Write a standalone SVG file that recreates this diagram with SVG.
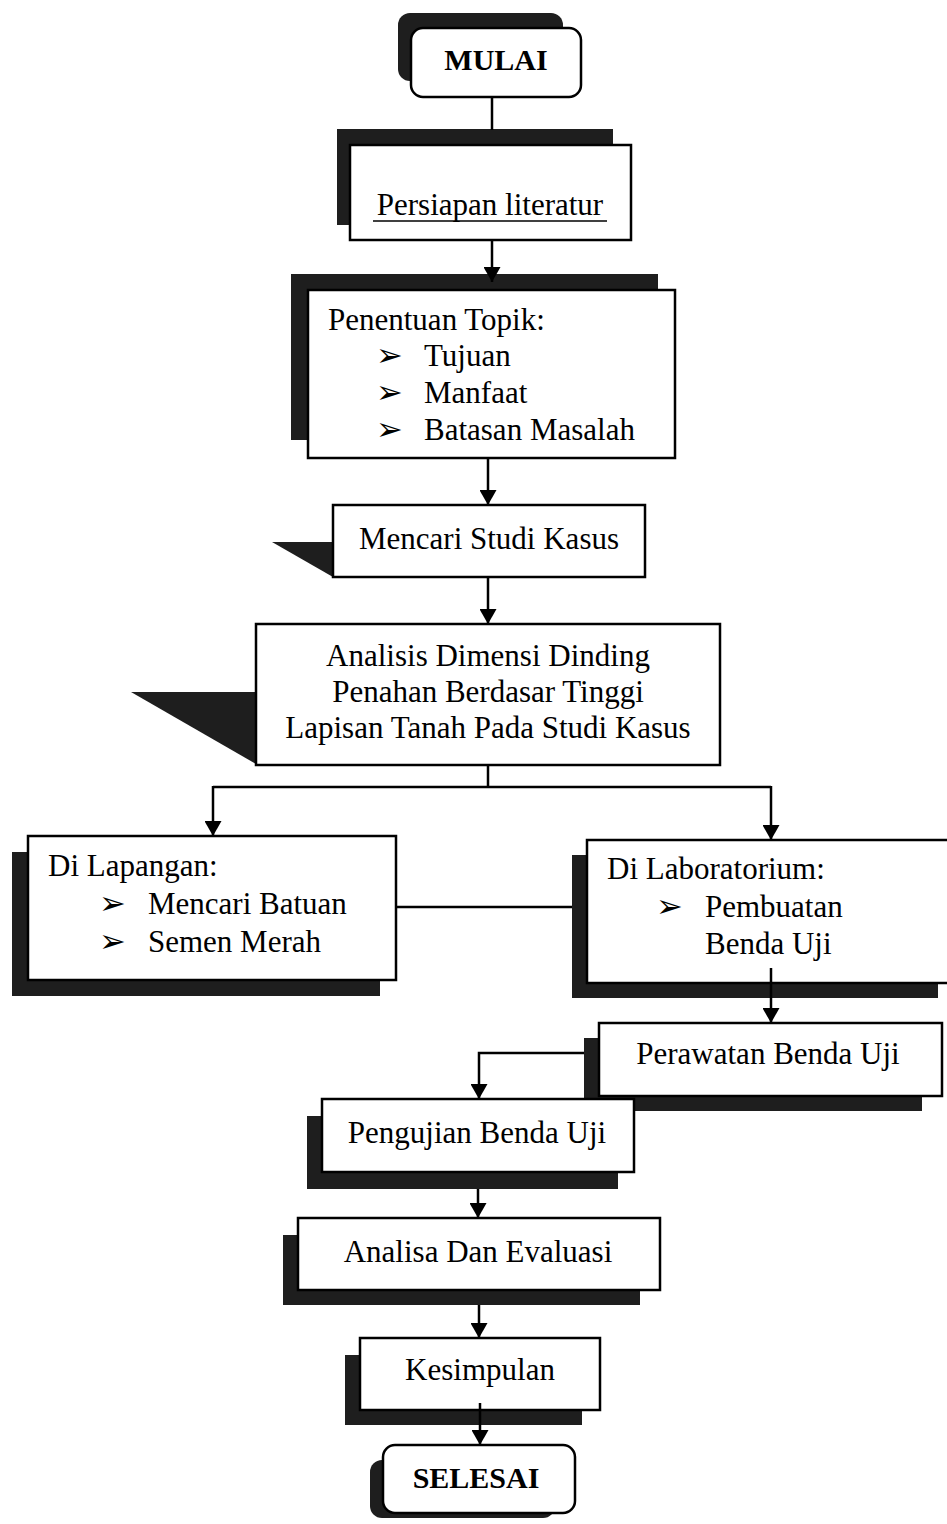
<svg xmlns="http://www.w3.org/2000/svg" width="947" height="1524" viewBox="0 0 947 1524">
<style>
.box{fill:#fff;stroke:#000;stroke-width:2.5}
.sh{fill:#1e1e1e}
.t{font-family:"Liberation Serif","Times New Roman",serif;font-size:31px;fill:#000}
.c{text-anchor:middle}
.b{font-weight:bold;font-size:30px}
.bul{font-family:"DejaVu Sans",sans-serif;font-size:32px;fill:#000}
.ln{fill:none;stroke:#000;stroke-width:2.5}
</style>
<defs>
<marker id="arr" markerWidth="15" markerHeight="17" refX="15" refY="8.5" orient="auto" markerUnits="userSpaceOnUse" viewBox="0 0 15 17">
<path d="M0,0 L15,8.5 L0,17 Z" fill="#000"/>
</marker>
</defs>
<rect width="947" height="1524" fill="#fff"/>

<g id="mulai">
<rect class="sh" x="398" y="13" width="165" height="68" rx="12"/>
<rect class="box" x="411" y="28" width="170" height="69" rx="12"/>
<text class="t c b" x="496" y="70">MULAI</text>
</g>

<g id="persiapan">
<rect class="sh" x="337" y="129" width="276" height="96"/>
<rect class="box" x="350" y="145" width="281" height="95"/>
<text class="t c" x="490" y="215">Persiapan literatur</text>
<line x1="373" y1="221" x2="607" y2="221" stroke="#000" stroke-width="1.6"/>
</g>

<g id="penentuan">
<rect class="sh" x="291" y="274" width="367" height="166"/>
<rect class="box" x="308" y="290" width="367" height="168"/>
<text class="t" x="328" y="330">Penentuan Topik:</text>
<text class="bul" x="376" y="366">➢</text>
<text class="t" x="424" y="366">Tujuan</text>
<text class="bul" x="376" y="403">➢</text>
<text class="t" x="424" y="403">Manfaat</text>
<text class="bul" x="376" y="440">➢</text>
<text class="t" x="424" y="440">Batasan Masalah</text>
</g>

<g id="mencari">
<polygon class="sh" points="272,542 333,542 333,577"/>
<rect class="box" x="333" y="505" width="312" height="72"/>
<text class="t c" x="489" y="549">Mencari Studi Kasus</text>
</g>

<g id="analisis">
<polygon class="sh" points="131,692 256,692 256,764"/>
<rect class="box" x="256" y="624" width="464" height="141"/>
<text class="t c" x="488" y="666">Analisis Dimensi Dinding</text>
<text class="t c" x="488" y="702">Penahan Berdasar Tinggi</text>
<text class="t c" x="488" y="738">Lapisan Tanah Pada Studi Kasus</text>
</g>

<g id="lapangan">
<rect class="sh" x="12" y="852" width="368" height="144"/>
<rect class="box" x="28" y="836" width="368" height="144"/>
<text class="t" x="48" y="876">Di Lapangan:</text>
<text class="bul" x="99" y="914">➢</text>
<text class="t" x="148" y="914">Mencari Batuan</text>
<text class="bul" x="99" y="952">➢</text>
<text class="t" x="148" y="952">Semen Merah</text>
</g>

<g id="laboratorium">
<rect class="sh" x="572" y="855" width="366" height="143"/>
<rect class="box" x="587" y="840" width="370" height="143"/>
<text class="t" x="607" y="879">Di Laboratorium:</text>
<text class="bul" x="656" y="917">➢</text>
<text class="t" x="705" y="917">Pembuatan</text>
<text class="t" x="705" y="954">Benda Uji</text>
</g>

<g id="perawatan">
<rect class="sh" x="584" y="1038" width="338" height="73"/>
<rect class="box" x="599" y="1023" width="343" height="73"/>
<text class="t c" x="768" y="1064">Perawatan Benda Uji</text>
</g>

<g id="pengujian">
<rect class="sh" x="307" y="1116" width="311" height="73"/>
<rect class="box" x="322" y="1099" width="312" height="73"/>
<text class="t c" x="477" y="1143">Pengujian Benda Uji</text>
</g>

<g id="analisa">
<rect class="sh" x="283" y="1235" width="357" height="70"/>
<rect class="box" x="298" y="1218" width="362" height="72"/>
<text class="t c" x="478" y="1262">Analisa Dan Evaluasi</text>
</g>

<g id="kesimpulan">
<rect class="sh" x="345" y="1355" width="237" height="70"/>
<rect class="box" x="360" y="1338" width="240" height="72"/>
<text class="t c" x="480" y="1380">Kesimpulan</text>
</g>

<g id="selesai">
<rect class="sh" x="370" y="1460" width="185" height="58" rx="12"/>
<rect class="box" x="383" y="1445" width="192" height="68" rx="12"/>
<text class="t c b" x="476" y="1488">SELESAI</text>
</g>

<g id="connectors">
<line class="ln" x1="492" y1="97" x2="492" y2="130"/>
<line class="ln" x1="492" y1="240" x2="492" y2="282" marker-end="url(#arr)"/>
<line class="ln" x1="488" y1="458" x2="488" y2="505" marker-end="url(#arr)"/>
<line class="ln" x1="488" y1="577" x2="488" y2="624" marker-end="url(#arr)"/>
<line class="ln" x1="488" y1="765" x2="488" y2="787"/>
<polyline class="ln" points="213,787 771,787"/>
<line class="ln" x1="213" y1="786" x2="213" y2="836" marker-end="url(#arr)"/>
<line class="ln" x1="771" y1="786" x2="771" y2="840" marker-end="url(#arr)"/>
<line class="ln" x1="396" y1="907" x2="572" y2="907"/>
<line class="ln" x1="771" y1="968" x2="771" y2="1023" marker-end="url(#arr)"/>
<polyline class="ln" points="584,1053 479,1053 479,1099" marker-end="url(#arr)"/>
<line class="ln" x1="478" y1="1189" x2="478" y2="1218" marker-end="url(#arr)"/>
<line class="ln" x1="479" y1="1305" x2="479" y2="1338" marker-end="url(#arr)"/>
<line class="ln" x1="480" y1="1403" x2="480" y2="1445" marker-end="url(#arr)"/>
</g>
</svg>
